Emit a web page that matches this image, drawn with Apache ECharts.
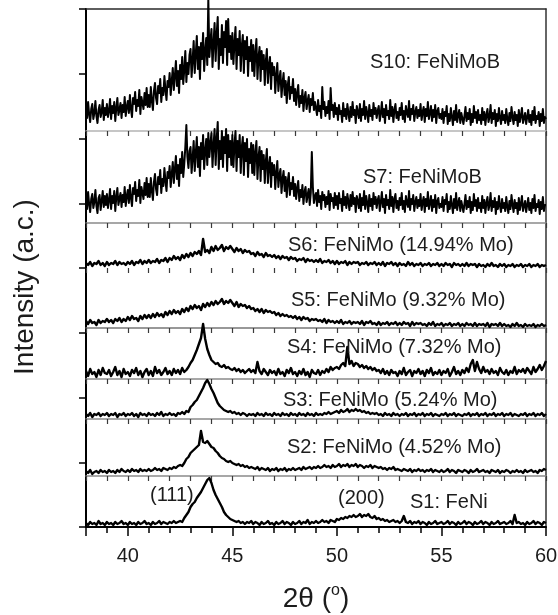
<!DOCTYPE html>
<html>
<head>
<meta charset="utf-8">
<title>XRD patterns</title>
<script src="https://cdn.jsdelivr.net/npm/echarts@6/dist/echarts.min.js"></script>
<style>
  html, body { margin: 0; padding: 0; background: #ffffff; }
  #chart { width: 558px; height: 615px; }
</style>
</head>
<body>
<div id="chart"></div>
<script>
// Diffraction scans from 2θ = 38° to 60°.
// S10 and S7 were recorded at 0.05° steps (441 points), the others at 0.1° (221 points).
const twoThetaStart = 38;
const fineStep = 0.05;
const coarseStep = 0.1;
const xTickLabels = [40, 45, 50, 55, 60];

const sampleLabels = [
  'S10: FeNiMoB',
  'S7: FeNiMoB',
  'S6: FeNiMo (14.94% Mo)',
  'S5: FeNiMo (9.32% Mo)',
  'S4: FeNiMo (7.32% Mo)',
  'S3: FeNiMo (5.24% Mo)',
  'S2: FeNiMo (4.52% Mo)',
  'S1: FeNi'
];
const reflectionLabels = ['(111)', '(200)'];

// Intensities (a.c.), one row per degree.
const S10 = [
  24, 13, 29, 17, 9, 22, 27, 12, 18, 30, 15, 8, 21, 26, 14, 19, 31, 11, 23, 16,
  27, 14, 20, 32, 12, 25, 18, 29, 10, 23, 33, 16, 21, 28, 13, 26, 19, 34, 15, 24,
  30, 18, 36, 22, 14, 33, 27, 39, 20, 31, 25, 41, 17, 34, 28, 22, 38, 26, 43, 24,
  36, 24, 44, 30, 21, 40, 48, 33, 27, 45, 38, 52, 29, 43, 36, 55, 41, 31, 50, 44,
  58, 36, 50, 63, 41, 55, 70, 45, 60, 38, 66, 52, 74, 47, 61, 80, 49, 68, 57, 76,
  82, 54, 71, 90, 58, 77, 95, 62, 84, 52, 88, 72, 98, 60, 80, 93, 66, 132, 74, 89,
  102, 64, 88, 108, 70, 97, 114, 62, 92, 76, 106, 68, 99, 84, 110, 66, 112, 79, 95, 72,
  98, 67, 88, 104, 62, 92, 76, 100, 60, 85, 96, 58, 90, 72, 94, 55, 84, 70, 91, 60,
  86, 55, 78, 92, 52, 74, 84, 50, 80, 62, 76, 46, 70, 82, 48, 66, 74, 42, 68, 56,
  64, 38, 56, 68, 40, 52, 60, 34, 48, 58, 36, 50, 28, 46, 54, 32, 44, 38, 52, 30,
  42, 26, 38, 46, 24, 35, 28, 41, 20, 33, 39, 22, 30, 36, 19, 32, 26, 38, 21, 29,
  27, 16, 31, 20, 25, 13, 44, 22, 29, 15, 24, 18, 30, 12, 43, 21, 26, 14, 28, 17,
  23, 11, 26, 17, 20, 9, 28, 15, 22, 12, 27, 18, 10, 24, 14, 29, 16, 21, 8, 25,
  19, 13, 27, 10, 22, 16, 30, 12, 24, 18, 9, 26, 15, 21, 11, 28, 17, 23, 13, 20,
  25, 10, 18, 29, 14, 22, 8, 26, 16, 20, 12, 31, 15, 24, 9, 21, 27, 13, 19, 11,
  23, 16, 28, 12, 20, 9, 25, 18, 14, 30, 11, 22, 17, 26, 10, 19, 24, 13, 21, 15,
  27, 11, 19, 24, 9, 22, 15, 29, 12, 18, 25, 10, 21, 14, 26, 8, 20, 23, 13, 17,
  12, 22, 8, 19, 15, 25, 7, 17, 10, 23, 14, 6, 20, 11, 26, 9, 16, 21, 8, 18,
  20, 7, 15, 24, 10, 18, 12, 22, 6, 17, 9, 25, 13, 19, 8, 21, 11, 16, 7, 23,
  11, 19, 6, 16, 22, 9, 14, 26, 8, 18, 12, 21, 5, 17, 10, 23, 13, 7, 20, 11,
  16, 8, 22, 12, 6, 18, 10, 24, 14, 7, 19, 11, 16, 5, 21, 9, 15, 23, 8, 13,
  18, 7, 14, 21, 9, 16, 6, 20, 11, 24, 8, 15, 12, 19, 5, 17, 10, 22, 8, 14,
  12
];

const S7 = [
  26, 14, 31, 19, 11, 24, 29, 15, 21, 33, 17, 10, 25, 28, 13, 22, 32, 16, 27, 18,
  29, 15, 23, 34, 14, 27, 20, 32, 12, 26, 35, 18, 24, 30, 16, 28, 21, 36, 17, 27,
  33, 20, 38, 25, 17, 35, 29, 41, 22, 33, 27, 43, 20, 36, 30, 24, 40, 28, 45, 26,
  39, 26, 45, 32, 23, 41, 49, 34, 28, 46, 39, 53, 30, 44, 37, 55, 42, 32, 51, 45,
  57, 36, 49, 61, 40, 54, 67, 44, 58, 37, 64, 50, 71, 46, 59, 76, 98, 66, 55, 72,
  76, 50, 65, 82, 52, 70, 86, 56, 76, 47, 80, 64, 88, 54, 72, 84, 58, 90, 66, 80,
  90, 56, 78, 94, 58, 84, 101, 54, 82, 64, 92, 56, 86, 70, 94, 52, 88, 66, 82, 58,
  88, 56, 78, 92, 52, 82, 66, 88, 50, 76, 86, 48, 80, 62, 84, 46, 74, 60, 80, 50,
  78, 48, 70, 82, 44, 66, 76, 42, 72, 54, 68, 40, 62, 74, 40, 58, 66, 36, 60, 48,
  58, 34, 50, 62, 36, 48, 54, 30, 44, 52, 32, 46, 26, 42, 50, 28, 40, 34, 46, 27,
  39, 24, 35, 42, 22, 33, 26, 38, 19, 31, 36, 21, 28, 34, 18, 30, 71, 36, 20, 27,
  30, 17, 33, 21, 27, 14, 31, 23, 28, 16, 26, 19, 32, 13, 29, 22, 25, 15, 30, 18,
  27, 14, 30, 20, 24, 12, 32, 18, 26, 15, 29, 21, 13, 28, 17, 31, 19, 25, 11, 27,
  22, 15, 29, 12, 25, 18, 32, 14, 27, 20, 11, 28, 17, 24, 13, 30, 19, 26, 15, 23,
  27, 12, 21, 31, 16, 24, 10, 28, 18, 23, 14, 33, 17, 26, 11, 24, 29, 15, 22, 13,
  25, 18, 30, 14, 22, 11, 27, 20, 16, 32, 13, 24, 19, 28, 12, 21, 26, 15, 23, 17,
  29, 13, 21, 26, 11, 24, 17, 31, 14, 20, 27, 12, 23, 16, 28, 10, 22, 25, 15, 19,
  16, 26, 12, 23, 19, 29, 11, 21, 14, 27, 18, 10, 24, 15, 30, 13, 20, 25, 12, 22,
  24, 11, 19, 28, 14, 22, 16, 26, 10, 21, 13, 29, 17, 23, 12, 25, 15, 20, 11, 27,
  15, 23, 10, 20, 26, 13, 18, 30, 12, 22, 16, 25, 9, 21, 14, 27, 17, 11, 24, 15,
  20, 12, 26, 16, 10, 22, 14, 28, 18, 11, 23, 15, 20, 9, 25, 13, 19, 27, 12, 17,
  22, 11, 18, 25, 13, 20, 10, 24, 15, 28, 12, 19, 16, 23, 9, 21, 14, 26, 12, 18,
  18
];

const S6 = [
  5, 3, 6, 2, 5, 4, 7, 3, 5, 2,
  6, 3, 5, 4, 7, 3, 6, 4, 5, 3,
  6, 4, 7, 3, 6, 5, 8, 4, 7, 5,
  8, 5, 7, 6, 9, 5, 8, 7, 10, 6,
  10, 8, 12, 9, 11, 8, 13, 10, 14, 11,
  15, 12, 16, 14, 17, 13, 29, 16, 18, 15,
  21, 17, 22, 18, 20, 23, 17, 21, 19, 22,
  19, 16, 20, 17, 19, 15, 18, 16, 17, 14,
  15, 12, 16, 13, 14, 11, 15, 12, 13, 11,
  13, 10, 12, 9, 12, 10, 11, 8, 11, 9,
  10, 7, 9, 8, 10, 6, 9, 7, 8, 6,
  8, 6, 9, 5, 7, 6, 8, 5, 7, 4,
  7, 4, 6, 5, 7, 3, 6, 4, 6, 5,
  6, 3, 5, 4, 6, 3, 5, 4, 6, 3,
  5, 3, 6, 2, 5, 4, 6, 3, 5, 2,
  5, 3, 4, 2, 6, 3, 5, 2, 4, 3,
  5, 2, 4, 3, 5, 2, 4, 3, 5, 2,
  4, 2, 5, 3, 4, 1, 5, 3, 4, 2,
  4, 2, 5, 2, 4, 3, 4, 1, 4, 2,
  3, 1, 4, 2, 5, 2, 3, 1, 4, 2,
  4, 1, 3, 2, 4, 1, 3, 2, 4, 1,
  3, 2, 4, 1, 3, 2, 4, 1, 3, 2,
  3
];

const S5 = [
  7, 4, 8, 5, 6, 3, 8, 5, 7, 6,
  9, 6, 8, 5, 9, 7, 10, 6, 9, 7,
  11, 8, 12, 9, 10, 7, 12, 9, 13, 10,
  13, 10, 14, 11, 15, 12, 14, 11, 16, 13,
  17, 14, 18, 15, 17, 14, 19, 16, 20, 17,
  22, 19, 23, 20, 22, 18, 24, 21, 25, 22,
  26, 23, 27, 24, 26, 29, 24, 27, 25, 28,
  25, 22, 26, 21, 24, 22, 23, 20, 22, 19,
  20, 17, 19, 16, 19, 15, 18, 16, 17, 15,
  16, 13, 15, 12, 14, 12, 13, 11, 12, 10,
  12, 9, 11, 8, 11, 9, 10, 7, 9, 8,
  9, 7, 8, 6, 9, 5, 8, 6, 7, 5,
  7, 5, 8, 4, 6, 5, 7, 4, 6, 5,
  6, 4, 7, 3, 6, 5, 7, 4, 5, 3,
  6, 3, 5, 4, 6, 3, 5, 4, 6, 3,
  5, 3, 6, 4, 5, 2, 6, 3, 5, 4,
  5, 3, 4, 2, 5, 3, 6, 2, 4, 3,
  5, 2, 4, 3, 5, 2, 4, 3, 5, 2,
  4, 2, 5, 3, 4, 2, 5, 2, 4, 3,
  4, 2, 5, 1, 4, 3, 4, 2, 5, 2,
  4, 2, 3, 1, 4, 2, 5, 2, 3, 1,
  4, 2, 3, 2, 4, 1, 3, 2, 4, 2,
  3
];

const S4 = [
  8, 3, 10, 5, 7, 2, 9, 4, 11, 6,
  5, 9, 3, 7, 12, 4, 8, 2, 10, 5,
  7, 3, 9, 6, 11, 4, 8, 2, 7, 10,
  4, 8, 3, 12, 6, 9, 4, 7, 11, 5,
  8, 4, 10, 6, 9, 5, 11, 7, 9, 12,
  16, 19, 24, 29, 35, 41, 55, 40, 30, 24,
  19, 17, 15, 16, 13, 12, 14, 11, 12, 10,
  9, 11, 8, 10, 7, 9, 6, 8, 10, 7,
  9, 6, 17, 8, 5, 10, 7, 4, 9, 6,
  8, 4, 10, 5, 7, 3, 9, 6, 11, 5,
  7, 3, 8, 5, 10, 4, 7, 2, 9, 6,
  5, 9, 4, 8, 6, 10, 7, 12, 9, 11,
  12, 10, 14, 16, 13, 32, 15, 18, 13, 16,
  15, 12, 14, 11, 13, 10, 12, 9, 11, 8,
  9, 6, 10, 5, 8, 4, 9, 6, 7, 3,
  8, 5, 11, 4, 7, 9, 3, 8, 6, 10,
  5, 8, 3, 9, 6, 11, 4, 7, 5, 9,
  4, 8, 6, 10, 3, 7, 12, 5, 8, 4,
  9, 6, 11, 7, 15, 19, 8, 17, 10, 6,
  12, 7, 9, 5, 10, 6, 8, 4, 11, 7,
  5, 9, 4, 8, 6, 12, 5, 9, 7, 10,
  6, 11, 8, 5, 12, 7, 10, 14, 9, 13,
  18
];

const S3 = [
  5, 3, 6, 2, 5, 4, 6, 3, 5, 4,
  6, 3, 5, 4, 6, 2, 5, 4, 6, 3,
  5, 4, 6, 3, 5, 2, 6, 4, 5, 3,
  6, 4, 5, 3, 6, 4, 7, 3, 5, 4,
  6, 4, 5, 3, 6, 5, 7, 5, 8, 7,
  12, 14, 17, 19, 23, 27, 31, 36, 39, 35,
  30, 26, 21, 16, 13, 11, 9, 8, 7, 8,
  6, 7, 5, 6, 4, 6, 5, 3, 5, 4,
  5, 3, 6, 4, 5, 3, 6, 4, 5, 3,
  6, 4, 5, 3, 6, 4, 5, 3, 6, 4,
  5, 3, 6, 4, 5, 3, 6, 4, 5, 3,
  6, 4, 5, 4, 6, 5, 7, 5, 6, 7,
  8, 6, 9, 7, 8, 10, 7, 9, 8, 10,
  8, 9, 7, 8, 6, 7, 5, 6, 5, 6,
  4, 5, 3, 6, 4, 5, 3, 6, 4, 5,
  3, 5, 4, 6, 3, 5, 4, 6, 3, 5,
  4, 6, 3, 5, 4, 6, 3, 5, 4, 3,
  5, 4, 6, 3, 5, 4, 6, 3, 5, 4,
  3, 5, 4, 6, 3, 5, 4, 6, 3, 5,
  4, 6, 3, 5, 4, 6, 3, 5, 4, 6,
  3, 5, 4, 6, 3, 5, 4, 3, 5, 4,
  6, 3, 5, 4, 6, 3, 5, 4, 6, 3,
  5
];

const S2 = [
  5, 3, 6, 2, 4, 5, 3, 6, 4, 5,
  3, 6, 4, 5, 3, 6, 4, 7, 5, 4,
  6, 4, 7, 5, 6, 4, 7, 5, 6, 5,
  7, 5, 6, 8, 6, 7, 5, 8, 7, 6,
  8, 7, 9, 8, 10, 11, 10, 13, 17, 19,
  23, 25, 27, 29, 31, 45, 34, 33, 35, 32,
  29, 28, 25, 23, 20, 18, 17, 15, 14, 15,
  13, 12, 11, 12, 10, 11, 9, 10, 8, 9,
  8, 7, 9, 6, 8, 7, 6, 8, 5, 7,
  6, 8, 5, 7, 6, 8, 5, 7, 6, 8,
  6, 7, 8, 6, 9, 7, 8, 9, 7, 9,
  8, 10, 8, 9, 11, 9, 10, 8, 11, 9,
  10, 12, 9, 11, 10, 12, 9, 11, 10, 12,
  9, 11, 10, 8, 10, 9, 11, 8, 10, 9,
  8, 9, 7, 8, 6, 8, 7, 9, 6, 7,
  6, 5, 7, 6, 5, 7, 4, 6, 5, 7,
  5, 6, 4, 6, 5, 7, 4, 6, 5, 4,
  6, 4, 5, 7, 4, 6, 5, 3, 6, 5,
  4, 6, 5, 3, 6, 4, 5, 7, 4, 5,
  6, 4, 5, 3, 6, 5, 4, 6, 3, 5,
  4, 6, 5, 3, 5, 4, 6, 4, 5, 3,
  6, 4, 5, 6, 4, 5, 3, 6, 5, 7,
  6
];

const S1 = [
  4, 2, 5, 3, 4, 2, 6, 3, 4, 2,
  5, 3, 4, 2, 5, 3, 4, 6, 3, 4,
  2, 5, 3, 4, 2, 5, 3, 4, 6, 3,
  4, 2, 5, 3, 4, 6, 3, 5, 4, 3,
  5, 4, 6, 4, 5, 6, 5, 9, 12, 15,
  20, 23, 25, 29, 32, 35, 39, 43, 47, 49,
  44, 37, 32, 28, 24, 20, 15, 12, 10, 8,
  7, 6, 5, 6, 4, 5, 3, 5, 4, 6,
  3, 5, 4, 2, 5, 3, 4, 6, 3, 4,
  2, 5, 3, 4, 6, 3, 5, 4, 2, 5,
  3, 4, 6, 3, 5, 4, 7, 3, 5, 4,
  6, 4, 5, 7, 5, 6, 4, 7, 6, 5,
  8, 7, 9, 8, 10, 9, 11, 10, 12, 10,
  11, 13, 10, 12, 11, 13, 10, 9, 11, 8,
  9, 7, 8, 6, 7, 5, 6, 7, 5, 6,
  4, 6, 11, 5, 4, 6, 3, 5, 4, 6,
  3, 5, 4, 2, 5, 3, 4, 6, 3, 4,
  5, 3, 4, 6, 3, 5, 4, 2, 5, 3,
  4, 6, 3, 5, 4, 2, 5, 3, 4, 6,
  3, 5, 4, 2, 5, 3, 4, 6, 3, 4,
  5, 3, 4, 6, 3, 12, 4, 5, 3, 4,
  2, 5, 3, 4, 6, 3, 5, 4, 2, 5,
  4
];

const patterns = [S10, S7, S6, S5, S4, S3, S2, S1];
const patternSteps = [fineStep, fineStep, coarseStep, coarseStep, coarseStep, coarseStep, coarseStep, coarseStep];

// ---- layout (pixels) ----
const plotLeft = 86;
const plotWidth = 460;
const panelEdges = [9, 131, 223, 268, 328, 379, 419, 476, 527];
// bottom separator of each panel (the last panel sits on the main axis)
const separators = [
  { line: true, color: '#b4b4b4' },
  { line: true, color: '#8a8a8a' },
  { line: false, color: '#8a8a8a' },
  { line: true, color: '#777777' },
  { line: true, color: '#8a8a8a' },
  { line: true, color: '#8a8a8a' },
  { line: true, color: '#8a8a8a' },
  null
];
const traceWidths = [2, 2, 2.4, 2.4, 2.4, 2.4, 2.4, 2.4];
const sampleLabelPos = [[370, 62], [363, 177], [288, 245], [291, 300], [287, 347], [283, 400], [287, 447], [410, 502]];
const reflectionLabelPos = [[150, 495], [338, 498]];

const FONT = '"Liberation Sans", Arial, Helvetica, sans-serif';
const TEXT = '#1c1c1c';

function toPoints(values, step) {
  return values.map((v, i) => [Number((twoThetaStart + i * step).toFixed(2)), v]);
}

const grids = [];
const xAxes = [];
const yAxes = [];
const series = [];

// frame grid: main bottom axis, left axis, top and right borders
grids.push({ left: plotLeft, top: panelEdges[0], width: plotWidth, height: panelEdges[8] - panelEdges[0], outerBoundsMode: 'none' });
xAxes.push({
  gridIndex: 0, type: 'value', min: 38, max: 60, interval: 1, position: 'bottom',
  axisLine: { show: true, lineStyle: { color: '#000', width: 2 } },
  axisTick: { show: true, inside: false, length: 6, lineStyle: { color: '#000', width: 1.5 } },
  axisLabel: { show: true, customValues: xTickLabels, fontSize: 20, fontFamily: FONT, color: TEXT, margin: 19 },
  splitLine: { show: false },
  name: '2θ ({sup|o})',
  nameLocation: 'middle',
  nameGap: 56,
  nameTextStyle: {
    fontSize: 28, fontFamily: FONT, color: TEXT, lineHeight: 32,
    rich: { sup: { fontSize: 16, fontFamily: FONT, color: TEXT, verticalAlign: 'top', lineHeight: 20 } }
  }
});
xAxes.push({
  gridIndex: 0, type: 'value', min: 38, max: 60, position: 'bottom',
  axisLine: { show: false },
  axisTick: { show: true, inside: false, length: 9, customValues: [38, 40, 45, 50, 55, 60], lineStyle: { color: '#000', width: 1.5 } },
  axisLabel: { show: false },
  splitLine: { show: false }
});
xAxes.push({
  gridIndex: 0, type: 'value', min: 38, max: 60, position: 'top',
  axisLine: { show: true, lineStyle: { color: '#2a2a2a', width: 1.5 } },
  axisTick: { show: false }, axisLabel: { show: false }, splitLine: { show: false }
});
yAxes.push({
  gridIndex: 0, type: 'value', min: 0, max: 8, interval: 1, position: 'left',
  axisLine: { show: true, lineStyle: { color: '#000', width: 2 } },
  axisTick: { show: true, inside: false, length: 7, lineStyle: { color: '#000', width: 1.5 } },
  axisLabel: { show: false },
  splitLine: { show: false }
});
yAxes.push({
  gridIndex: 0, type: 'value', min: 0, max: 8, position: 'right',
  axisLine: { show: true, lineStyle: { color: '#333', width: 1.5 } },
  axisTick: { show: false }, axisLabel: { show: false }, splitLine: { show: false }
});

// one grid per scan, stacked top to bottom
patterns.forEach((values, k) => {
  const top = panelEdges[k];
  const height = panelEdges[k + 1] - top;
  const g = grids.length;
  grids.push({ left: plotLeft, top: top, width: plotWidth, height: height, outerBoundsMode: 'none' });
  const sep = separators[k];
  xAxes.push({
    gridIndex: g, type: 'value', min: 38, max: 60, interval: 1, position: 'bottom',
    axisLine: { show: !!(sep && sep.line), onZero: false, lineStyle: { color: sep ? sep.color : '#000', width: 1.5 } },
    axisTick: { show: !!sep, inside: false, length: 5, lineStyle: { color: '#3a3a3a', width: 1.2 } },
    axisLabel: { show: false },
    splitLine: { show: false }
  });
  yAxes.push({ gridIndex: g, type: 'value', min: 0, max: height, show: false, splitLine: { show: false } });
  series.push({
    type: 'line',
    name: sampleLabels[k],
    xAxisIndex: xAxes.length - 1,
    yAxisIndex: yAxes.length - 1,
    data: toPoints(values, patternSteps[k]),
    showSymbol: false,
    symbol: 'none',
    clip: false,
    lineStyle: { color: '#000', width: traceWidths[k], join: 'round' },
    z: 3,
    animation: false
  });
});

const graphic = [];
sampleLabels.forEach((t, k) => {
  graphic.push({
    type: 'text', x: sampleLabelPos[k][0], y: sampleLabelPos[k][1], z: 10,
    style: { text: t, fontSize: 20, fontFamily: FONT, fill: TEXT, verticalAlign: 'middle', align: 'left' }
  });
});
reflectionLabels.forEach((t, k) => {
  graphic.push({
    type: 'text', x: reflectionLabelPos[k][0], y: reflectionLabelPos[k][1], z: 10,
    style: { text: t, fontSize: 20, fontFamily: FONT, fill: TEXT, verticalAlign: 'middle', align: 'left' }
  });
});
// vertical axis title
graphic.push({
  type: 'text', x: 25, y: 287, rotation: Math.PI / 2, z: 10,
  style: { text: 'Intensity (a.c.)', fontSize: 28, fontFamily: FONT, fill: TEXT, verticalAlign: 'middle', align: 'center' }
});

const chart = echarts.init(document.getElementById('chart'), null, { renderer: 'canvas' });
chart.setOption({
  animation: false,
  backgroundColor: '#ffffff',
  grid: grids,
  xAxis: xAxes,
  yAxis: yAxes,
  series: series,
  graphic: graphic
});
</script>
</body>
</html>
